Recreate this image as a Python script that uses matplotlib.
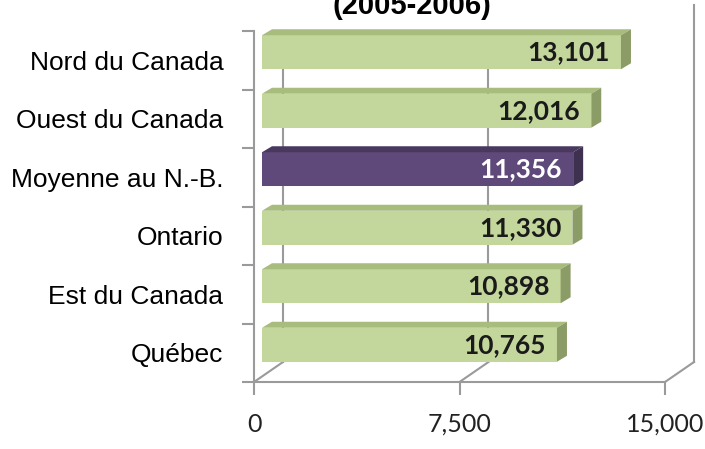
import matplotlib.pyplot as plt
from matplotlib.patches import Polygon

regions = ['Québec', 'Est du Canada', 'Ontario', 'Moyenne au N.-B.', 'Ouest du Canada', 'Nord du Canada']
values = [10765, 10898, 11330, 11356, 12016, 13101]
labels = ['10,765', '10,898', '11,330', '11,356', '12,016', '13,101']
highlight = 'Moyenne au N.-B.'
xticks = [0, 7500, 15000]
xticklabels = ['0', '7,500', '15,000']

# colours of the fake 3D bars
green = {'front': '#c3d69b', 'top': '#a8bc7e', 'side': '#8c9c66'}
purple = {'front': '#5f497a', 'top': '#4a395f', 'side': '#3e304f'}
line_col = '#9a9a9a'

fig = plt.figure(figsize=(7.05, 4.49), dpi=100)
ax = fig.add_axes([254 / 705, 67 / 449, 411 / 705, 351 / 449])
ax.set_xlim(0, 15000)
ax.set_ylim(-0.5, 5.5)

# pixel -> data helpers for the depth effect
px_x = 15000 / 411
px_y = 6 / 351
back_dx, back_dy = 29 * px_x, 20 * px_y
bar_dx, bar_dy = 8 * px_x, 8 * px_y
depth_dx, depth_dy = 10 * px_x, 6 * px_y
bar_h = 34 * px_y

# floor diagonals and back wall
for xv in xticks:
    ax.plot([xv, xv + back_dx], [-0.5, -0.5 + back_dy], color=line_col, lw=1.5,
            clip_on=False, zorder=1)
    top = 5.94 if xv == xticks[-1] else 5.5
    ax.plot([xv + back_dx, xv + back_dx], [-0.5 + back_dy, top], color=line_col, lw=1.5,
            clip_on=False, zorder=1)

pos = list(range(len(regions)))
for i, (name, v, lab) in enumerate(zip(regions, values, labels)):
    c = purple if name == highlight else green
    yc = i + bar_dy
    lo, hi = yc - bar_h / 2, yc + bar_h / 2
    x0, x1 = bar_dx, bar_dx + v
    ax.barh(yc, v, left=x0, height=bar_h, color=c['front'], clip_on=False, zorder=3)
    ax.add_patch(Polygon([(x0, hi), (x1, hi), (x1 + depth_dx, hi + depth_dy),
                          (x0 + depth_dx, hi + depth_dy)], closed=True,
                         facecolor=c['top'], edgecolor='none', clip_on=False, zorder=3))
    ax.add_patch(Polygon([(x1, lo), (x1 + depth_dx, lo + depth_dy),
                          (x1 + depth_dx, hi + depth_dy), (x1, hi)], closed=True,
                         facecolor=c['side'], edgecolor='none', clip_on=False, zorder=3))
    ax.text(x1 - 11 * px_x, yc, lab, ha='right', va='center', fontsize=19,
            fontweight='bold', family='Lato',
            color='white' if name == highlight else '#1a1a1a', zorder=4)

# axes look
for s in ['top', 'right']:
    ax.spines[s].set_visible(False)
for s in ['left', 'bottom']:
    ax.spines[s].set_color(line_col)
    ax.spines[s].set_linewidth(1.5)
ax.set_yticks([p - 0.5 for p in pos] + [pos[-1] + 0.5])
ax.set_yticklabels([])
ax.set_yticks(pos, minor=True)
ax.set_yticklabels(regions, minor=True, fontsize=19, family='Liberation Sans')
ax.tick_params(axis='y', which='major', length=9, width=1.5, color=line_col)
ax.tick_params(axis='y', which='minor', length=0, pad=22)
ax.set_xticks(xticks)
ax.set_xticklabels(xticklabels, fontsize=18, family='Lato', color='#222222')
ax.tick_params(axis='x', length=9, width=1.5, color=line_col, pad=13)

fig.text(412 / 705, 1 - 14 / 449, '(2005-2006)', ha='center', va='baseline',
         fontsize=21, fontweight='bold', family='Liberation Sans')

fig.savefig('out.png', dpi=100)
